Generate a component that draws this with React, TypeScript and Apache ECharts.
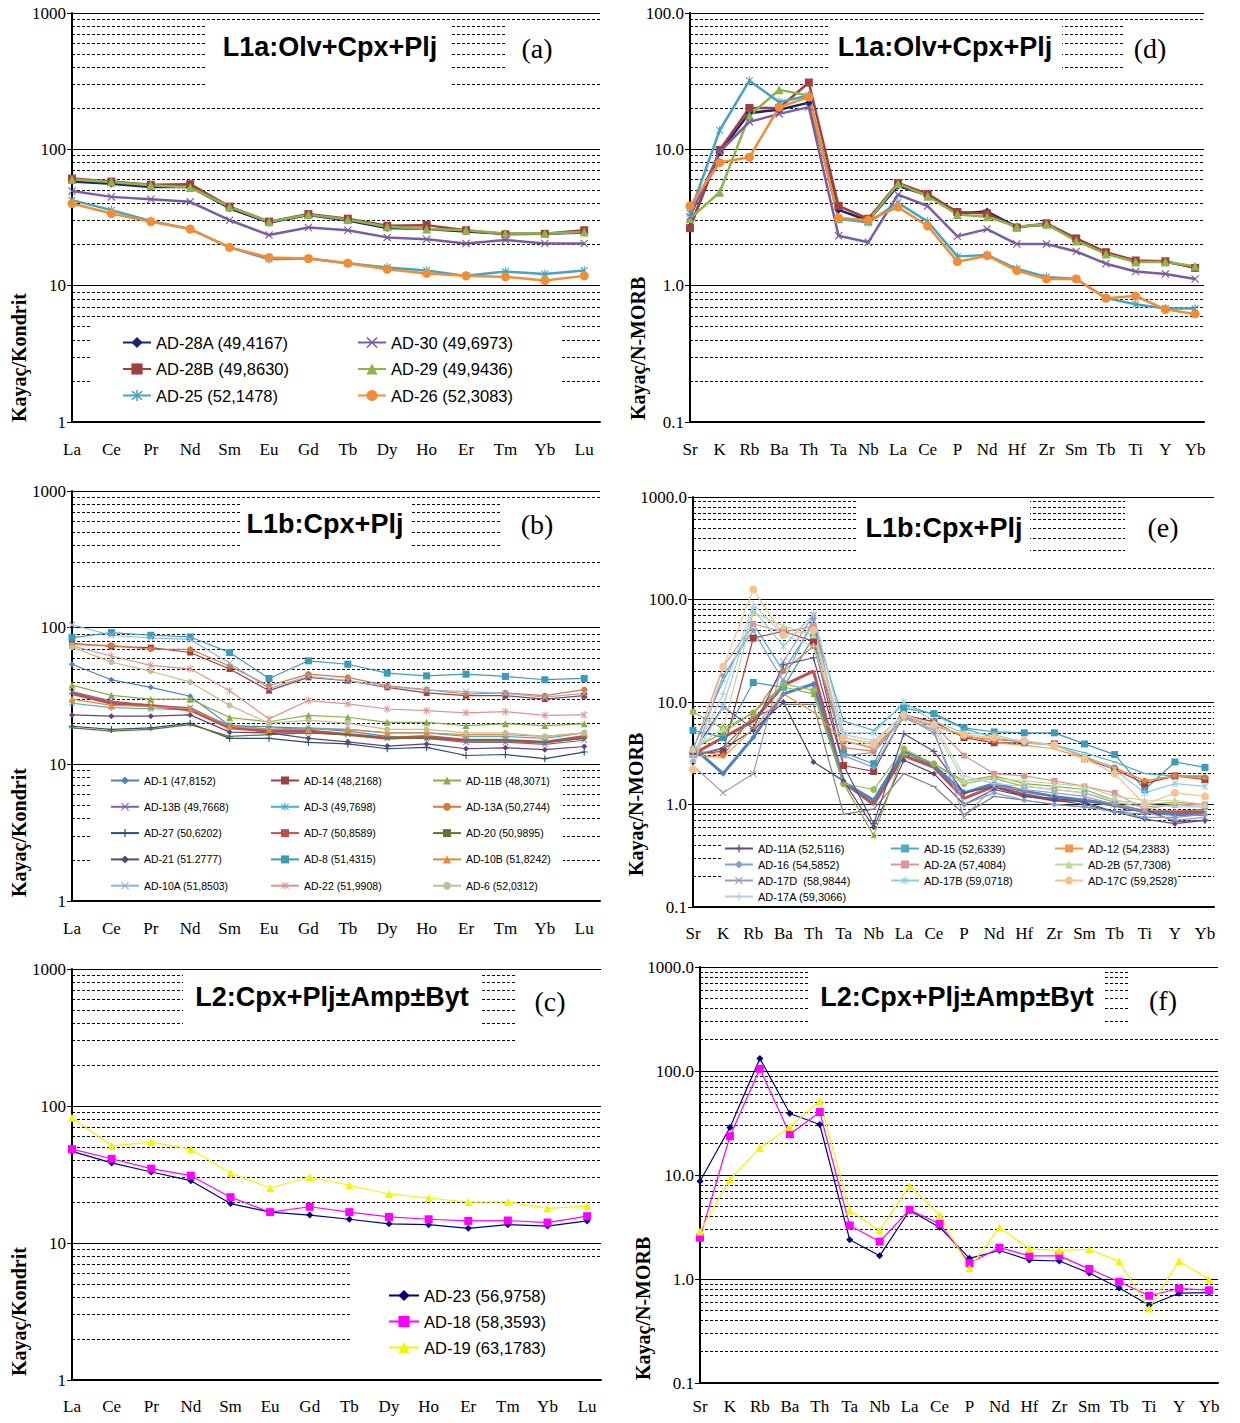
import React, { useEffect, useRef } from 'react';
import * as echarts from 'echarts';

// ---------- categories ----------
const REE = ['La', 'Ce', 'Pr', 'Nd', 'Sm', 'Eu', 'Gd', 'Tb', 'Dy', 'Ho', 'Er', 'Tm', 'Yb', 'Lu'];
const SPIDER = ['Sr', 'K', 'Rb', 'Ba', 'Th', 'Ta', 'Nb', 'La', 'Ce', 'P', 'Nd', 'Hf', 'Zr', 'Sm', 'Tb', 'Ti', 'Y', 'Yb'];
const MINOR_STEPS = [2, 3, 4, 5, 6, 7, 8, 9];
const DECADES_KONDRIT = [1, 10, 100];
const DECADES_MORB_D = [0.1, 1, 10];
const DECADES_MORB_EF = [0.1, 1, 10, 100];

// ---------- panel (a) : REE, L1a ----------
const a_AD28A = [58, 56, 53, 53, 37, 29, 33, 30, 26.5, 26, 25, 24, 24, 24.5];
const a_AD28B = [61, 58, 55, 55.5, 38, 29.5, 33.5, 31, 27.5, 27.8, 25.5, 23.8, 24, 25.5];
const a_AD29 = [60, 57.7, 54.5, 52.5, 37.8, 29.4, 33.2, 30.6, 27, 26, 25.5, 24.1, 24.1, 24.8];
const a_AD30 = [49.5, 44.8, 43, 41.2, 30.2, 23.5, 26.7, 25.5, 22.6, 21.9, 20.4, 21.6, 20.4, 20.4];
const a_AD25 = [42.4, 35.8, 29.8, 26, 19.1, 15.6, 15.8, 14.6, 13.6, 12.9, 11.8, 12.7, 12.2, 12.9];
const a_AD26 = [40, 33.8, 29.4, 26, 19.1, 16.1, 15.8, 14.6, 13.2, 12.3, 11.8, 11.6, 10.9, 11.8];

// ---------- panel (d) : N-MORB, L1a ----------
const d_AD28A = [2.7, 9.5, 18.5, 19.5, 22, 3.6, 3.0, 5.4, 4.6, 3.4, 3.5, 2.7, 2.8, 2.2, 1.72, 1.5, 1.5, 1.36];
const d_AD28B = [2.64, 9.9, 20.1, 20.1, 30.9, 3.84, 3.1, 5.67, 4.71, 3.47, 3.39, 2.67, 2.87, 2.22, 1.76, 1.53, 1.51, 1.35];
const d_AD29 = [3.1, 4.84, 17.7, 27.3, 24.8, 3.1, 2.99, 5.6, 4.53, 3.33, 3.2, 2.71, 2.82, 2.13, 1.71, 1.49, 1.49, 1.39];
const d_AD30 = [3.2, 9.6, 15.9, 18.2, 20.4, 2.32, 2.08, 4.66, 3.84, 2.3, 2.6, 2.02, 2.02, 1.78, 1.45, 1.27, 1.22, 1.12];
const d_AD25 = [3.4, 13.8, 31.9, 22.2, 24.8, 3.1, 2.9, 4.06, 2.95, 1.64, 1.68, 1.33, 1.16, 1.12, 0.81, 0.73, 0.68, 0.68];
const d_AD26 = [3.84, 8.0, 8.75, 20.4, 24.2, 3.14, 3.03, 3.77, 2.74, 1.5, 1.66, 1.29, 1.12, 1.12, 0.81, 0.84, 0.67, 0.62];

// ---------- panel (b) : REE, L1b ----------
const b_AD1 = [54, 41.6, 36.6, 31.5, 19.2, 18.8, 18.3, 17.5, 16, 15.5, 15, 15, 14.5, 15.5];
const b_AD14 = [76.9, 72.8, 71.5, 65.8, 49.8, 34.6, 43.3, 40.9, 36.6, 33.3, 31.8, 31.8, 30, 31.8];
const b_AD11B = [38, 32, 30, 30, 22, 20.5, 22.8, 22.1, 20.3, 20.3, 19.2, 19.8, 19.2, 19.8];
const b_AD13B = [34, 29, 27, 26, 19, 17, 17, 16.5, 15.5, 15.5, 14.5, 14.5, 14, 15];
const b_AD3 = [28, 26, 25.5, 25, 19.5, 18, 18.5, 18, 17, 17, 16, 16, 15.5, 17];
const b_AD13A = [75, 74.3, 69.5, 69.5, 52.4, 37.6, 45.7, 43.3, 37.6, 35.2, 32.7, 33.3, 31.8, 35.2];
const b_AD27 = [19, 18, 18.5, 20, 15.5, 15.5, 14.5, 14.1, 13, 13.3, 11.6, 11.8, 11, 12.3];
const b_AD7 = [33, 28, 27, 25, 18.5, 17.5, 17.5, 16.5, 15.5, 16, 15, 15, 14.5, 16];
const b_AD20 = [18.5, 17.5, 18, 19.5, 16, 16.5, 17, 16.5, 15.5, 15.5, 15, 15, 14.5, 15.5];
const b_AD21 = [23, 22.5, 22.5, 23, 17.2, 17, 15.5, 14.6, 13.6, 14.1, 13, 13.2, 12.8, 13.5];
const b_AD8 = [84.6, 92, 88, 85.5, 65.8, 42.5, 57.2, 54, 46.5, 44.4, 45.7, 44, 41.6, 42.5];
const b_AD10B = [30, 27, 26.5, 25.5, 19, 18, 18, 18, 17, 17, 16.5, 16.5, 16, 17];
const b_AD10A = [105, 88, 84, 82, 55, 36, 44, 41, 37, 35, 34, 33, 31, 33];
const b_AD22 = [73.5, 62, 53, 50, 34.6, 21.5, 29.3, 27.7, 25.4, 24.7, 23.8, 24.3, 22.8, 23];
const b_AD6 = [72, 56, 48, 40, 27, 20, 21, 20, 18, 18, 17, 17, 16, 17];

// ---------- panel (e) : N-MORB, L1b ----------
const e_AD11A = [3.2, 9.0, 5.5, 23, 27, 2.4, 0.65, 4.9, 3.3, 1.3, 1.5, 1.2, 1.15, 1.05, 0.85, 0.9, 0.68, 0.7];
const e_AD15 = [3.5, 16, 58, 20, 58, 6.5, 5.3, 9.5, 7.5, 5.5, 4.5, 4.0, 3.8, 3.2, 2.6, 2.0, 1.9, 1.9];
const e_AD12 = [3.0, 2.9, 5.5, 12, 8.0, 4.2, 3.6, 7.0, 5.8, 4.8, 4.0, 3.8, 3.5, 2.8, 2.3, 1.7, 1.9, 1.8];
const e_AD16 = [2.7, 18, 50, 16, 65, 3.0, 2.3, 7.3, 5.0, 1.0, 1.3, 1.1, 1.0, 0.95, 0.85, 0.75, 0.75, 0.8];
const e_AD2A = [3.4, 22, 58, 48, 55, 4.2, 3.5, 7.2, 6.0, 3.0, 2.0, 1.9, 1.7, 1.5, 1.3, 0.9, 1.0, 1.0];
const e_AD2B = [3.5, 5.5, 75, 55, 45, 4.5, 3.8, 7.0, 5.5, 1.7, 1.8, 1.7, 1.6, 1.5, 1.2, 1.1, 1.1, 1.0];
const e_AD17D = [2.4, 1.3, 2.0, 25, 70, 3.0, 3.2, 7.0, 5.3, 0.75, 1.5, 1.4, 1.3, 1.2, 1.0, 0.85, 0.7, 0.75];
const e_AD17B = [2.8, 9, 80, 35, 72, 5.0, 5.0, 10, 6.5, 5.0, 4.8, 4.0, 3.8, 3.0, 2.2, 1.3, 1.6, 1.5];
const e_AD17C = [2.2, 22, 125, 45, 50, 4.5, 4.0, 7.5, 6.0, 4.8, 4.5, 4.2, 3.8, 2.8, 2.0, 1.0, 1.3, 1.2];
const e_AD17A = [3.0, 12, 90, 45, 35, 4.8, 4.2, 7.5, 6.0, 1.9, 1.6, 1.5, 1.4, 1.3, 1.1, 1.0, 0.95, 0.95];
const e_AD8 = [5.3, 4.5, 15.5, 13.9, 43, 3.2, 2.5, 8.7, 7.7, 5.6, 5.1, 5.0, 5.0, 3.9, 3.07, 1.4, 2.6, 2.3];
const e_AD14 = [3.1, 3.3, 42, 49, 39, 2.4, 2.1, 7.5, 6.4, 4.5, 4.0, 4.0, 3.9, 2.8, 2.2, 1.6, 1.9, 1.75];
const e_AD13A = [3.4, 3.0, 7.5, 20, 35, 3.6, 3.3, 7.2, 6.0, 4.6, 4.3, 4.1, 3.8, 2.9, 2.3, 1.7, 1.9, 1.85];
const e_AD7 = [3.1, 4.5, 6.5, 14.5, 20, 1.65, 1.0, 3.0, 2.3, 1.15, 1.5, 1.25, 1.1, 1.1, 1.0, 0.85, 0.85, 0.85];
const e_AD1 = [3.6, 2.0, 4.5, 12, 15, 1.65, 1.1, 3.3, 2.4, 1.3, 1.6, 1.35, 1.2, 1.1, 0.98, 0.85, 0.8, 0.8];
const e_AD6 = [8.0, 5.5, 7.8, 15, 13, 1.6, 1.4, 3.5, 2.5, 1.6, 1.8, 1.5, 1.4, 1.3, 1.05, 0.95, 1.0, 0.95];
const e_AD21 = [3.0, 3.5, 5.3, 10, 2.6, 1.7, 0.6, 2.7, 2.0, 1.0, 1.4, 1.2, 1.1, 1.0, 0.85, 0.72, 0.65, 0.7];
const e_AD20 = [3.0, 3.6, 7.0, 9.5, 9.5, 0.8, 0.9, 2.0, 1.5, 0.8, 1.2, 1.1, 1.0, 0.95, 0.85, 0.8, 0.85, 0.9];
const e_AD11B = [3.5, 5.0, 8.0, 14, 12, 1.6, 0.5, 3.2, 2.5, 1.7, 1.9, 1.6, 1.5, 1.4, 1.1, 1.0, 1.05, 1.0];

// ---------- panel (c) : REE, L2 ----------
const c_AD23 = [46.6, 38.4, 33, 28.5, 19.4, 16.8, 16, 14.9, 13.8, 13.6, 12.8, 13.6, 13.3, 14.5];
const c_AD18 = [48.4, 41.2, 34.9, 31, 21.6, 16.8, 18.4, 16.8, 15.5, 14.9, 14.5, 14.6, 14.1, 15.7];
const c_AD19 = [82.2, 51.2, 54.5, 48.4, 32.4, 25.2, 30.3, 26.4, 22.8, 21.3, 19.9, 20, 17.9, 18.6];

// ---------- panel (f) : N-MORB, L2 ----------
const f_AD23 = [8.7, 28.6, 132, 39, 30.6, 2.38, 1.67, 4.56, 3.15, 1.58, 1.88, 1.52, 1.49, 1.14, 0.82, 0.56, 0.73, 0.74];
const f_AD18 = [2.5, 23.6, 105, 24.7, 40.3, 3.27, 2.29, 4.63, 3.4, 1.42, 2.0, 1.67, 1.67, 1.25, 0.94, 0.69, 0.81, 0.78];
const f_AD19 = [2.87, 9.1, 18.2, 29, 51.4, 4.56, 2.92, 7.9, 4.14, 1.27, 3.13, 1.95, 1.88, 1.93, 1.47, 0.52, 1.49, 0.99];

// ---------- styling ----------
const SERIF = 'Liberation Serif';
const SANS = 'Liberation Sans';

const SYM: Record<string, string> = {
  diamond: 'diamond',
  square: 'rect',
  triangle: 'triangle',
  circle: 'circle',
  x: 'path://M0,1L1,0L5,4L9,0L10,1L6,5L10,9L9,10L5,6L1,10L0,9L4,5Z',
  plus: 'path://M4.2,0H5.8V4.2H10V5.8H5.8V10H4.2V5.8H0V4.2H4.2Z',
  star: 'path://M0,1L1,0L5,4L9,0L10,1L6,5L10,9L9,10L5,6L1,10L0,9L4,5Z M4.3,-1H5.7V11H4.3Z',
  dash: 'path://M0,4.2H10V5.8H0Z',
  none: 'none',
};

function mk(name: string, data: number[], color: string, sym: string, size: number, width: number, idx: number) {
  return {
    type: 'line',
    name,
    xAxisIndex: idx,
    yAxisIndex: idx,
    data: data.map((v, i) => [i, v]),
    symbol: SYM[sym],
    symbolSize: size,
    symbolKeepAspect: true,
    showSymbol: true,
    lineStyle: { color, width },
    itemStyle: { color, borderColor: color, borderWidth: 0 },
    z: 3,
    silent: true,
  };
}

function minorLines(decades: number[]) {
  const vals: number[] = [];
  decades.forEach((b) => MINOR_STEPS.forEach((k) => vals.push(+(k * b).toPrecision(4))));
  return {
    silent: true,
    symbol: 'none',
    z: 1,
    animation: false,
    label: { show: false },
    emphasis: { disabled: true },
    lineStyle: { color: '#000', width: 1, type: [3, 2] },
    data: vals.map((v) => ({ yAxis: v })),
  };
}

const PANELS = [
  { key: 'a', left: 72, top: 13, width: 528, height: 409, cats: REE, pad: 0.4, min: 1, max: 1000, dec: DECADES_KONDRIT, fixed: false, lm: 19 },
  { key: 'd', left: 690, top: 13, width: 514, height: 409, cats: SPIDER, pad: 0.3, min: 0.1, max: 100, dec: DECADES_MORB_D, fixed: true, lm: 19 },
  { key: 'b', left: 72, top: 491, width: 528, height: 410, cats: REE, pad: 0.4, min: 1, max: 1000, dec: DECADES_KONDRIT, fixed: false, lm: 19 },
  { key: 'e', left: 693, top: 497, width: 521, height: 410, cats: SPIDER, pad: 0.3, min: 0.1, max: 1000, dec: DECADES_MORB_EF, fixed: true, lm: 18 },
  { key: 'c', left: 72, top: 969, width: 529, height: 411, cats: REE, pad: 0.35, min: 1, max: 1000, dec: DECADES_KONDRIT, fixed: false, lm: 18 },
  { key: 'f', left: 700, top: 967, width: 518, height: 416, cats: SPIDER, pad: 0.3, min: 0.1, max: 1000, dec: DECADES_MORB_EF, fixed: true, lm: 15 },
];

// names
const N = {
  a28A: 'AD-28A (49,4167)', a28B: 'AD-28B (49,8630)', a25: 'AD-25 (52,1478)',
  a30: 'AD-30 (49,6973)', a29: 'AD-29 (49,9436)', a26: 'AD-26 (52,3083)',
  b1: 'AD-1 (47,8152)', b14: 'AD-14 (48,2168)', b11B: 'AD-11B (48,3071)',
  b13B: 'AD-13B (49,7668)', b3: 'AD-3 (49,7698)', b13A: 'AD-13A (50,2744)',
  b27: 'AD-27 (50,6202)', b7: 'AD-7 (50,8589)', b20: 'AD-20 (50,9895)',
  b21: 'AD-21 (51.2777)', b8: 'AD-8 (51,4315)', b10B: 'AD-10B (51,8242)',
  b10A: 'AD-10A (51,8503)', b22: 'AD-22 (51,9908)', b6: 'AD-6 (52,0312)',
  e11A: 'AD-11A (52,5116)', e15: 'AD-15 (52,6339)', e12: 'AD-12 (54,2383)',
  e16: 'AD-16 (54,5852)', e2A: 'AD-2A (57,4084)', e2B: 'AD-2B (57,7308)',
  e17D: 'AD-17D  (58,9844)', e17B: 'AD-17B (59,0718)', e17C: 'AD-17C (59,2528)',
  e17A: 'AD-17A (59,3066)',
  c23: 'AD-23 (56,9758)', c18: 'AD-18 (58,3593)', c19: 'AD-19 (63,1783)',
};

const C = {
  navy: '#1B2370', dred: '#A0403C', green: '#8DB44B', purple: '#7A5CA3', teal: '#45A5BF', orange: '#F28C35',
};

function buildSeries() {
  const s: any[] = [];
  // (a) idx 0
  s.push(mk(N.a28A, a_AD28A, C.navy, 'diamond', 8, 2.5, 0));
  s.push(mk(N.a28B, a_AD28B, C.dred, 'square', 8, 2.5, 0));
  s.push(mk(N.a29, a_AD29, C.green, 'triangle', 9, 2.5, 0));
  s.push(mk(N.a30, a_AD30, C.purple, 'x', 8, 2.5, 0));
  s.push(mk(N.a25, a_AD25, C.teal, 'star', 9, 2.5, 0));
  s.push(mk(N.a26, a_AD26, C.orange, 'circle', 9, 2.5, 0));
  // (d) idx 1
  s.push(mk(N.a28A, d_AD28A, C.navy, 'diamond', 8, 2.5, 1));
  s.push(mk(N.a28B, d_AD28B, C.dred, 'square', 8, 2.5, 1));
  s.push(mk(N.a29, d_AD29, C.green, 'triangle', 9, 2.5, 1));
  s.push(mk(N.a30, d_AD30, C.purple, 'x', 8, 2.5, 1));
  s.push(mk(N.a25, d_AD25, C.teal, 'star', 9, 2.5, 1));
  s.push(mk(N.a26, d_AD26, C.orange, 'circle', 9, 2.5, 1));
  // (b) idx 2
  s.push(mk(N.b1, b_AD1, '#4F81BD', 'diamond', 6, 1.2, 2));
  s.push(mk(N.b14, b_AD14, '#A0403C', 'square', 6, 1.2, 2));
  s.push(mk(N.b11B, b_AD11B, '#8AAE4A', 'triangle', 7, 1.2, 2));
  s.push(mk(N.b13B, b_AD13B, '#8064A2', 'x', 6, 1.2, 2));
  s.push(mk(N.b3, b_AD3, '#4BACC6', 'star', 7, 1.2, 2));
  s.push(mk(N.b13A, b_AD13A, '#D9793A', 'circle', 6, 1.2, 2));
  s.push(mk(N.b27, b_AD27, '#2C4D75', 'plus', 7, 1.2, 2));
  s.push(mk(N.b7, b_AD7, '#C0504D', 'dash', 6, 3, 2));
  s.push(mk(N.b20, b_AD20, '#5F7530', 'dash', 6, 1.2, 2));
  s.push(mk(N.b21, b_AD21, '#5C467A', 'diamond', 6, 1.2, 2));
  s.push(mk(N.b8, b_AD8, '#3A9CB8', 'square', 7, 1.2, 2));
  s.push(mk(N.b10B, b_AD10B, '#E08A3C', 'triangle', 7, 1.2, 2));
  s.push(mk(N.b10A, b_AD10A, '#8DB3E2', 'x', 7, 1.2, 2));
  s.push(mk(N.b22, b_AD22, '#D99694', 'star', 8, 1.2, 2));
  s.push(mk(N.b6, b_AD6, '#C4BD97', 'circle', 6, 1.2, 2));
  // (e) idx 3 : unlabeled L1b lines first
  s.push(mk(N.b8, e_AD8, '#3A9CB8', 'square', 7, 1.2, 3));
  s.push(mk(N.b14, e_AD14, '#A0403C', 'square', 7, 1.2, 3));
  s.push(mk(N.b13A, e_AD13A, '#D9793A', 'circle', 6, 1.2, 3));
  s.push(mk(N.b7, e_AD7, '#C0504D', 'dash', 5, 3, 3));
  s.push(mk(N.b1, e_AD1, '#4F81BD', 'diamond', 6, 3, 3));
  s.push(mk(N.b6, e_AD6, '#9BBB59', 'circle', 7, 1.2, 3));
  s.push(mk(N.b21, e_AD21, '#5C467A', 'diamond', 6, 1.2, 3));
  s.push(mk(N.b20, e_AD20, '#7F7F7F', 'dash', 6, 1.2, 3));
  s.push(mk(N.b11B, e_AD11B, '#8AAE4A', 'triangle', 6, 1.2, 3));
  s.push(mk(N.e11A, e_AD11A, '#5B4F86', 'plus', 7, 1.2, 3));
  s.push(mk(N.e15, e_AD15, '#4BACC6', 'dash', 5, 1.2, 3));
  s.push(mk(N.e12, e_AD12, '#F79646', 'dash', 5, 1.2, 3));
  s.push(mk(N.e16, e_AD16, '#7F9FCF', 'diamond', 6, 1.2, 3));
  s.push(mk(N.e2A, e_AD2A, '#D99694', 'square', 6, 1.2, 3));
  s.push(mk(N.e2B, e_AD2B, '#C3D69B', 'triangle', 7, 1.2, 3));
  s.push(mk(N.e17D, e_AD17D, '#A397B8', 'x', 7, 1.2, 3));
  s.push(mk(N.e17B, e_AD17B, '#93CDDD', 'star', 8, 1.2, 3));
  s.push(mk(N.e17C, e_AD17C, '#FAC090', 'circle', 8, 1.2, 3));
  s.push(mk(N.e17A, e_AD17A, '#B9CDE5', 'plus', 7, 1.2, 3));
  // (c) idx 4
  s.push(mk(N.c23, c_AD23, '#000080', 'diamond', 7, 1.2, 4));
  s.push(mk(N.c18, c_AD18, '#FF00FF', 'square', 8, 1.2, 4));
  s.push(mk(N.c19, c_AD19, '#F5F500', 'triangle', 8, 1.2, 4));
  // (f) idx 5
  s.push(mk(N.c23, f_AD23, '#000080', 'diamond', 7, 1.2, 5));
  s.push(mk(N.c18, f_AD18, '#FF00FF', 'square', 8, 1.2, 5));
  s.push(mk(N.c19, f_AD19, '#F5F500', 'triangle', 8, 1.2, 5));

  // attach dashed minor gridlines to the first series of each panel
  const seen = new Set<number>();
  s.forEach((ser) => {
    if (!seen.has(ser.xAxisIndex)) {
      seen.add(ser.xAxisIndex);
      ser.markLine = minorLines(PANELS[ser.xAxisIndex].dec);
    }
  });
  return s;
}

function legend(left: number, top: number, data: string[], fontSize: number, itemGap: number, itemHeight: number, itemWidth: number) {
  return {
    left, top, orient: 'vertical', data, itemGap, itemHeight, itemWidth,
    padding: 0, z: 20, selectedMode: false,
    textStyle: { fontFamily: SANS, fontSize, color: '#000', padding: [0, 0, 0, 0] },
  };
}

function rect(x: number, y: number, w: number, h: number) {
  return { type: 'rect', z: 10, silent: true, shape: { x, y, width: w, height: h }, style: { fill: '#fff' } };
}
function title(x: number, y: number, text: string) {
  return { type: 'text', z: 11, x, y, silent: true, style: { text, fontFamily: SANS, fontWeight: 'bold', fontSize: 27, fill: '#000', align: 'center', verticalAlign: 'middle' } };
}
function tag(x: number, y: number, text: string) {
  return { type: 'text', z: 11, x, y, silent: true, style: { text, fontFamily: SERIF, fontSize: 28, fill: '#000', align: 'center', verticalAlign: 'middle' } };
}
function yname(x: number, y: number, text: string) {
  return { type: 'text', z: 11, x, y, rotation: Math.PI / 2, silent: true, style: { text, fontFamily: SERIF, fontWeight: 'bold', fontSize: 20, fill: '#000', align: 'left', verticalAlign: 'middle' } };
}

function buildOption() {
  return {
    animation: false,
    backgroundColor: '#fff',
    grid: PANELS.map((p) => ({ left: p.left, top: p.top, width: p.width, height: p.height, containLabel: false })),
    xAxis: PANELS.map((p, i) => ({
      type: 'value', gridIndex: i, min: 0, max: p.cats.length - 1 + p.pad, interval: 1,
      axisLine: { show: true, onZero: false, lineStyle: { color: '#000', width: 2 } },
      axisTick: { show: false }, splitLine: { show: false },
      axisLabel: {
        fontFamily: SERIF, fontSize: 17, color: '#000', margin: p.lm,
        formatter: (v: number) => (Number.isInteger(v) && p.cats[v] ? p.cats[v] : ''),
      },
    })),
    yAxis: PANELS.map((p, i) => ({
      type: 'log', logBase: 10, gridIndex: i, min: p.min, max: p.max,
      axisLine: { show: true, onZero: false, lineStyle: { color: '#000', width: 2 } },
      axisTick: { show: true, length: 5, lineStyle: { color: '#000' } },
      splitLine: { show: true, lineStyle: { color: '#000', width: 1 } },
      axisLabel: {
        fontFamily: SERIF, fontSize: 17, color: '#000', margin: 6,
        formatter: (v: number) => (p.fixed ? Number(v).toFixed(1) : String(Math.round(v))),
      },
    })),
    legend: [
      legend(122, 334, [N.a28A, N.a28B, N.a25], 16.5, 9.5, 14, 28),
      legend(357, 334, [N.a30, N.a29, N.a26], 16.5, 9.5, 14, 28),
      legend(110, 775, [N.b1, N.b13B, N.b27, N.b21, N.b10A], 10.5, 15.3, 10, 28),
      legend(270, 775, [N.b14, N.b3, N.b7, N.b8, N.b22], 10.5, 15.3, 10, 28),
      legend(432, 775, [N.b11B, N.b13A, N.b20, N.b10B, N.b6], 10.5, 15.3, 10, 28),
      legend(724, 843, [N.e11A, N.e16, N.e17D, N.e17A], 11, 5, 10, 28),
      legend(890, 843, [N.e15, N.e2A, N.e17B], 11, 5, 10, 28),
      legend(1054, 843, [N.e12, N.e2B, N.e17C], 11, 5, 10, 28),
      legend(388, 1287, [N.c23, N.c18, N.c19], 16.5, 9, 14, 30),
    ],
    graphic: {
      elements: [
        // white boxes
        rect(207, 21, 243, 68), rect(505, 21, 100, 54), rect(92, 321, 470, 92),
        rect(828, 21, 234, 54), rect(1125, 21, 95, 54),
        rect(240, 499, 170, 56), rect(500, 499, 105, 52), rect(92, 767, 471, 132),
        rect(858, 500, 172, 55), rect(1125, 500, 95, 55), rect(722, 840, 456, 66),
        rect(183, 972, 299, 58), rect(515, 972, 92, 72), rect(350, 1259, 255, 120),
        rect(810, 970, 295, 56), rect(1130, 970, 95, 56),
        // titles
        title(330, 47, 'L1a:Olv+Cpx+Plj'), tag(537, 48, '(a)'),
        title(945, 47, 'L1a:Olv+Cpx+Plj'), tag(1150, 48, '(d)'),
        title(325, 524, 'L1b:Cpx+Plj'), tag(537, 524, '(b)'),
        title(944, 528, 'L1b:Cpx+Plj'), tag(1163, 527, '(e)'),
        title(332, 997, 'L2:Cpx+Plj±Amp±Byt'), tag(550, 1001, '(c)'),
        title(957, 997, 'L2:Cpx+Plj±Amp±Byt'), tag(1163, 1000, '(f)'),
        // axis names
        yname(19, 422, 'Kayaç/Kondrit'),
        yname(19, 897, 'Kayaç/Kondrit'),
        yname(19, 1376, 'Kayaç/Kondrit'),
        yname(638, 420, 'Kayaç/N-MORB'),
        yname(636, 876, 'Kayaç/N-MORB'),
        yname(643, 1380, 'Kayaç/N-MORB'),
      ],
    },
    series: buildSeries(),
  };
}

export default function App() {
  const ref = useRef<HTMLDivElement>(null);
  useEffect(() => {
    if (!ref.current) return;
    const chart = echarts.init(ref.current, null, { renderer: 'svg' });
    chart.setOption(buildOption() as any);
    return () => chart.dispose();
  }, []);
  return (
    <div
      ref={ref}
      style={{ position: 'absolute', left: 0, top: 0, width: 1240, height: 1423, background: '#fff' }}
    />
  );
}
